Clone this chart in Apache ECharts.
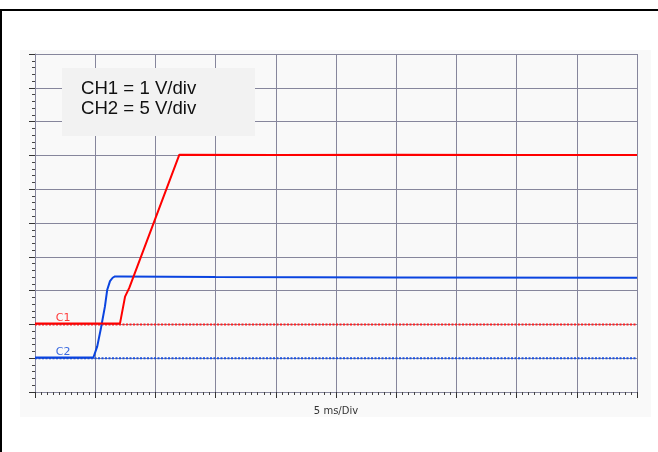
<!DOCTYPE html>
<html>
<head>
<meta charset="utf-8">
<script src="https://cdn.jsdelivr.net/npm/echarts@6/dist/echarts.min.js"></script>
<style>html,body{margin:0;padding:0;background:#fff;}#c{width:658px;height:452px;}</style>
</head>
<body>
<div id="c"></div>
<script>
// Time axis (ms), 5 ms/div, 10 divisions
const timeTicks = [0, 5, 10, 15, 20, 25, 30, 35, 40, 45, 50];
// CH1 (red), 1 V/div, ground reference at division 2
const ch1Time  = [0, 7.06, 7.48, 7.83, 11.99, 20, 30, 40, 50];
const ch1Volts = [0.03, 0.03, 0.82, 1.08, 5.02, 5.01, 5.02, 5.01, 5.01];
const ch1VPerDiv = 1, ch1Offset = 2;
// CH2 (blue), 5 V/div, ground reference at division 1
const ch2Time  = [0, 4.85, 5.17, 5.48, 5.81, 6.0, 6.23, 6.45, 6.64, 7.06, 15, 30, 50];
const ch2Volts = [0.1, 0.1, 1.75, 4.47, 7.66, 10.13, 11.4, 11.9, 12.1, 12.1, 12.0, 11.95, 11.9];
const ch2VPerDiv = 5, ch2Offset = 1;
const channelLabels = ['C1', 'C2'];
const noteLines = ['CH1 = 1 V/div', 'CH2 = 5 V/div'];
const xAxisTitle = '5 ms/Div';

const toDiv = (t, v, vpd, off) => t.map((x, i) => [x, v[i] / vpd + off]);
const ch1 = toDiv(ch1Time, ch1Volts, ch1VPerDiv, ch1Offset);
const ch2 = toDiv(ch2Time, ch2Volts, ch2VPerDiv, ch2Offset);

const gridColor = '#86869c';
const chart = echarts.init(document.getElementById('c'), null, {renderer: 'canvas'});
chart.setOption({
  animation: false,
  backgroundColor: '#ffffff',
  grid: {left: 35, top: 54, right: 21, bottom: 60},
  graphic: [
    {type: 'rect', z: -10, shape: {x: 20, y: 50, width: 631, height: 367}, style: {fill: '#f9f9f9'}},
    {type: 'rect', z: 10, shape: {x: 0, y: 9, width: 658, height: 2}, style: {fill: '#000'}},
    {type: 'rect', z: 10, shape: {x: 0, y: 9, width: 2, height: 443}, style: {fill: '#000'}},
    {type: 'rect', z: 100, shape: {x: 62, y: 68, width: 193, height: 68}, style: {fill: '#f2f2f2'}},
    {type: 'text', z: 101, x: 81, y: 79, style: {text: noteLines.join('\n'), font: '18.6px "Liberation Sans", Arial, sans-serif', lineHeight: 20, fill: '#111'}}
  ],
  xAxis: {
    type: 'value', min: timeTicks[0], max: timeTicks[timeTicks.length - 1], interval: 5,
    axisLine: {show: true, lineStyle: {color: gridColor, width: 1}},
    axisTick: {show: true, length: 6, lineStyle: {color: '#333'}},
    minorTick: {show: true, splitNumber: 10, length: 3, lineStyle: {color: '#444'}},
    axisLabel: {show: false},
    splitLine: {show: true, lineStyle: {color: gridColor, width: 1}},
    name: xAxisTitle, nameLocation: 'middle', nameGap: 14,
    nameTextStyle: {fontSize: 10, color: '#333', fontFamily: 'DejaVu Sans'}
  },
  yAxis: {
    type: 'value', min: 0, max: 10, interval: 1,
    axisLine: {show: true, lineStyle: {color: gridColor, width: 1}},
    axisTick: {show: true, length: 6, lineStyle: {color: '#333'}},
    minorTick: {show: true, splitNumber: 5, length: 3, lineStyle: {color: '#444'}},
    axisLabel: {show: false},
    splitLine: {show: true, lineStyle: {color: gridColor, width: 1}}
  },
  series: [
    {type: 'line', data: [[0, ch1Offset], [50, ch1Offset]], symbol: 'none', silent: true,
     lineStyle: {color: '#ff2020', width: 2, type: [2, 1.5]},
     markPoint: {symbol: 'circle', symbolSize: 0, data: [{coord: [2.33, ch1Offset]}],
       label: {show: true, formatter: channelLabels[0], position: 'top', distance: 1, color: '#ff3a3a', fontSize: 11, fontFamily: 'DejaVu Sans'}}},
    {type: 'line', data: [[0, ch2Offset], [50, ch2Offset]], symbol: 'none', silent: true,
     lineStyle: {color: '#1a50e0', width: 2, type: [2, 1.5]},
     markPoint: {symbol: 'circle', symbolSize: 0, data: [{coord: [2.33, ch2Offset]}],
       label: {show: true, formatter: channelLabels[1], position: 'top', distance: 1, color: '#3a6ae0', fontSize: 11, fontFamily: 'DejaVu Sans'}}},
    {type: 'line', data: ch2, symbol: 'none', lineStyle: {color: '#0a44e0', width: 2}},
    {type: 'line', data: ch1, symbol: 'none', lineStyle: {color: '#ff0000', width: 2}}
  ]
});
</script>
</body>
</html>
